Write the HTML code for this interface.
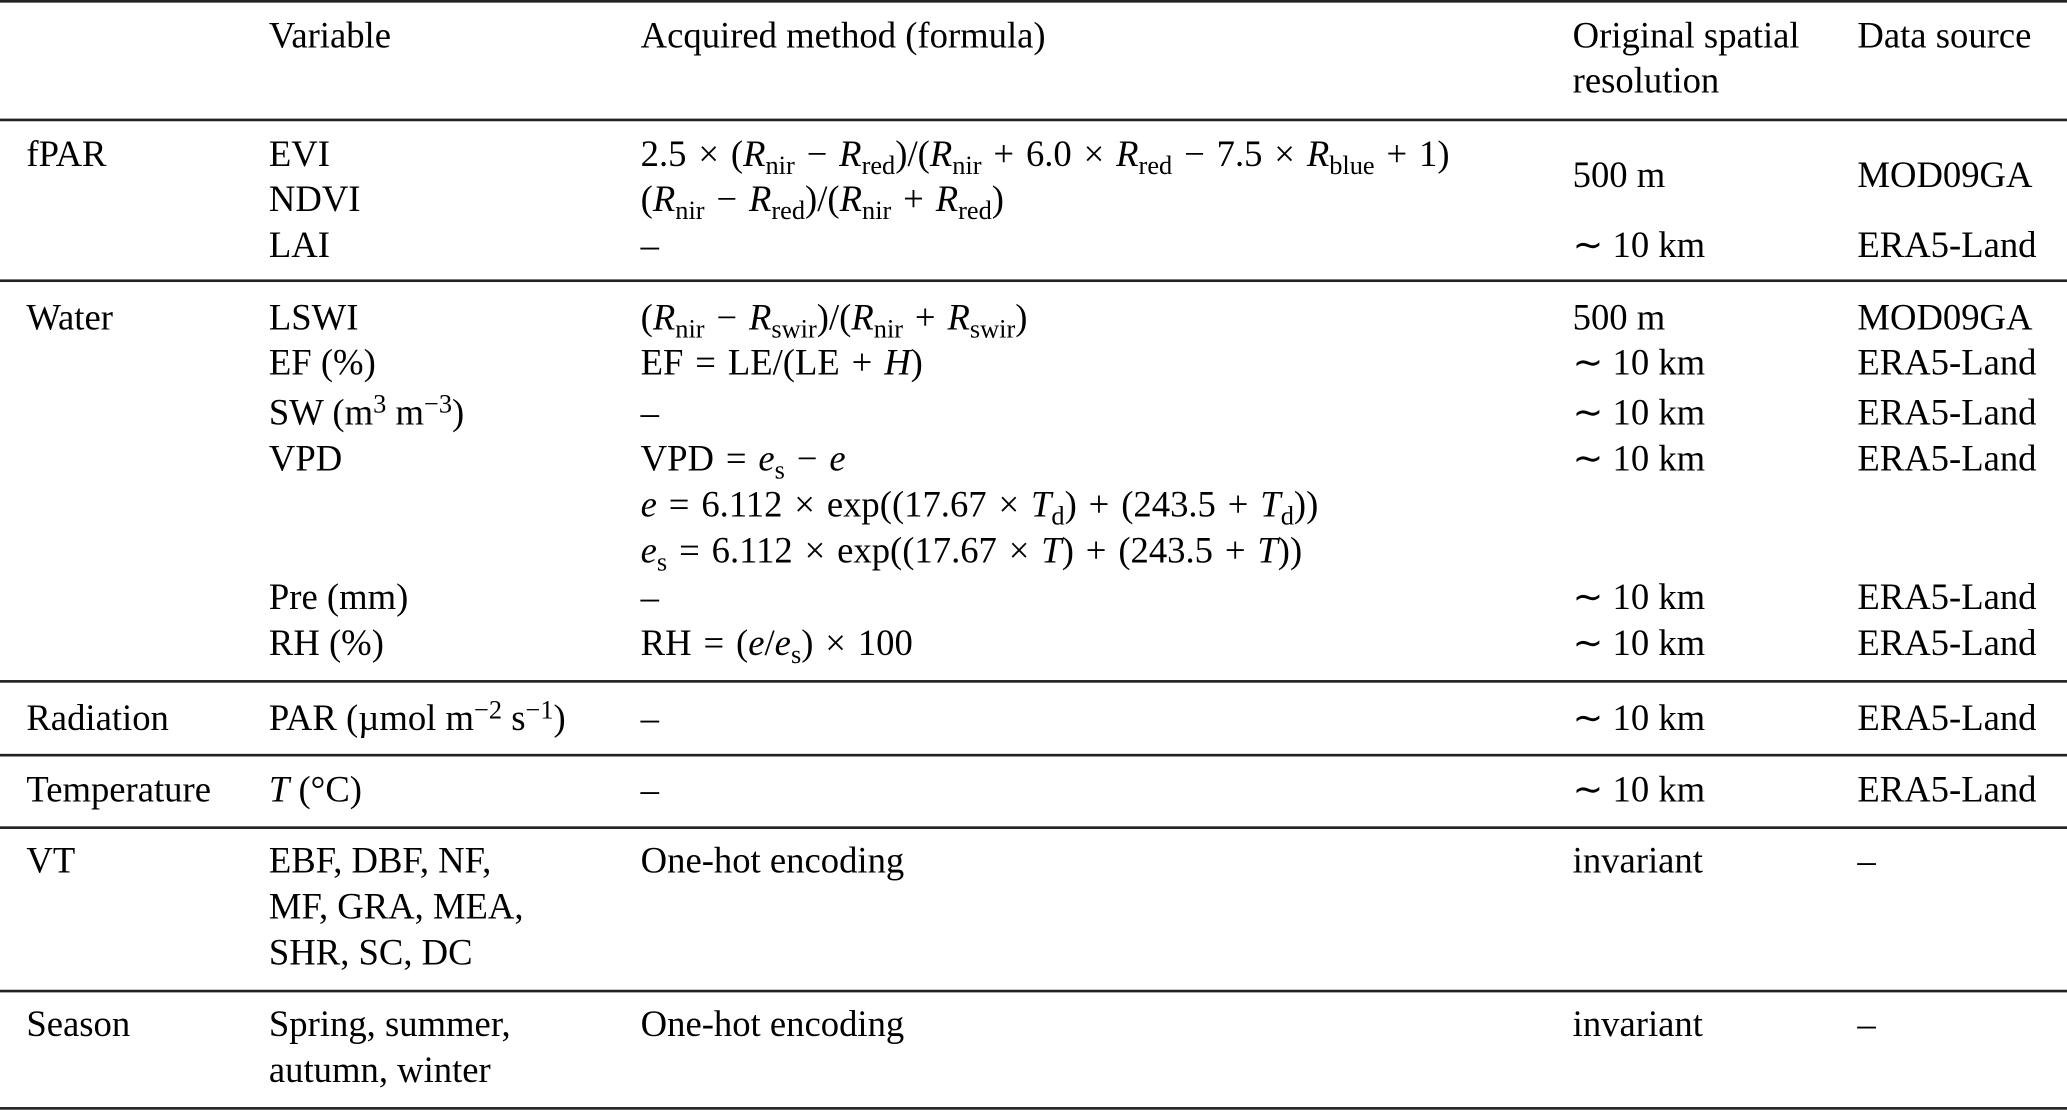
<!DOCTYPE html>
<html><head><meta charset="utf-8"><style>
html,body{margin:0;padding:0;background:#fff;}
body{width:2067px;height:1111px;overflow:hidden;position:relative;}
#c{position:absolute;left:0;top:0;width:1568px;height:843px;transform:scale(1.31824,1.31791);transform-origin:0 0;font-family:"Liberation Serif",serif;font-size:27.8px;color:#000;}
.t{position:absolute;white-space:nowrap;line-height:34px;height:34px;margin-top:1px;}
.l{position:absolute;left:0;width:1568px;background:#222;}
sub{font-size:0.72em;vertical-align:-0.3em;line-height:0;}
sup{font-size:0.72em;vertical-align:0.45em;line-height:0;}
i{font-style:italic;}
b{font-weight:normal;padding:0 9px;}
</style></head><body><div id="c">
<div class="l" style="top:0;height:2px"></div>
<div class="l" style="top:90px;height:1.5px"></div>
<div class="l" style="top:212px;height:1.5px"></div>
<div class="l" style="top:516px;height:1.5px"></div>
<div class="l" style="top:572px;height:1.5px"></div>
<div class="l" style="top:627px;height:1.5px"></div>
<div class="l" style="top:751px;height:1.5px"></div>
<div class="l" style="top:840px;height:2px"></div>

<div class="t" style="left:204px;top:10px">Variable</div>
<div class="t" style="left:486px;top:10px">Acquired method (formula)</div>
<div class="t" style="left:1193px;top:10px">Original spatial</div>
<div class="t" style="left:1193px;top:44px">resolution</div>
<div class="t" style="left:1409px;top:10px">Data source</div>

<div class="t" style="left:20px;top:100px">fPAR</div>
<div class="t" style="left:204px;top:100px">EVI</div>
<div class="t" style="left:204px;top:134px">NDVI</div>
<div class="t" style="left:204px;top:169px">LAI</div>
<div class="t" style="left:486px;top:100px">2.5<b>×</b>(<i>R</i><sub>nir</sub><b>−</b><i>R</i><sub>red</sub>)/(<i>R</i><sub>nir</sub><b>+</b>6.0<b>×</b><i>R</i><sub>red</sub><b>−</b>7.5<b>×</b><i>R</i><sub>blue</sub><b>+</b>1)</div>
<div class="t" style="left:486px;top:134px">(<i>R</i><sub>nir</sub><b>−</b><i>R</i><sub>red</sub>)/(<i>R</i><sub>nir</sub><b>+</b><i>R</i><sub>red</sub>)</div>
<div class="t" style="left:486px;top:169px">–</div>
<div class="t" style="left:1193px;top:116px">500 m</div>
<div class="t" style="left:1409px;top:116px">MOD09GA</div>
<div class="t" style="left:1193px;top:169px">∼ 10 km</div>
<div class="t" style="left:1409px;top:169px">ERA5-Land</div>

<div class="t" style="left:20px;top:224px">Water</div>
<div class="t" style="left:204px;top:224px">LSWI</div>
<div class="t" style="left:204px;top:258px">EF (%)</div>
<div class="t" style="left:204px;top:296px">SW (m<sup>3</sup> m<sup>−3</sup>)</div>
<div class="t" style="left:204px;top:331px">VPD</div>
<div class="t" style="left:204px;top:436px">Pre (mm)</div>
<div class="t" style="left:204px;top:471px">RH (%)</div>
<div class="t" style="left:486px;top:224px">(<i>R</i><sub>nir</sub><b>−</b><i>R</i><sub>swir</sub>)/(<i>R</i><sub>nir</sub><b>+</b><i>R</i><sub>swir</sub>)</div>
<div class="t" style="left:486px;top:258px">EF<b>=</b>LE/(LE<b>+</b><i>H</i>)</div>
<div class="t" style="left:486px;top:296px">–</div>
<div class="t" style="left:486px;top:331px">VPD<b>=</b><i>e</i><sub>s</sub><b>−</b><i>e</i></div>
<div class="t" style="left:486px;top:366px"><i>e</i><b>=</b>6.112<b>×</b>exp((17.67<b>×</b><i>T</i><sub>d</sub>)<b>+</b>(243.5<b>+</b><i>T</i><sub>d</sub>))</div>
<div class="t" style="left:486px;top:401px"><i>e</i><sub>s</sub><b>=</b>6.112<b>×</b>exp((17.67<b>×</b><i>T</i>)<b>+</b>(243.5<b>+</b><i>T</i>))</div>
<div class="t" style="left:486px;top:436px">–</div>
<div class="t" style="left:486px;top:471px">RH<b>=</b>(<i>e</i>/<i>e</i><sub>s</sub>)<b>×</b>100</div>
<div class="t" style="left:1193px;top:224px">500 m</div>
<div class="t" style="left:1409px;top:224px">MOD09GA</div>
<div class="t" style="left:1193px;top:258px">∼ 10 km</div>
<div class="t" style="left:1409px;top:258px">ERA5-Land</div>
<div class="t" style="left:1193px;top:296px">∼ 10 km</div>
<div class="t" style="left:1409px;top:296px">ERA5-Land</div>
<div class="t" style="left:1193px;top:331px">∼ 10 km</div>
<div class="t" style="left:1409px;top:331px">ERA5-Land</div>
<div class="t" style="left:1193px;top:436px">∼ 10 km</div>
<div class="t" style="left:1409px;top:436px">ERA5-Land</div>
<div class="t" style="left:1193px;top:471px">∼ 10 km</div>
<div class="t" style="left:1409px;top:471px">ERA5-Land</div>

<div class="t" style="left:20px;top:528px">Radiation</div>
<div class="t" style="left:204px;top:528px">PAR (µmol m<sup>−2</sup> s<sup>−1</sup>)</div>
<div class="t" style="left:486px;top:528px">–</div>
<div class="t" style="left:1193px;top:528px">∼ 10 km</div>
<div class="t" style="left:1409px;top:528px">ERA5-Land</div>

<div class="t" style="left:20px;top:582px">Temperature</div>
<div class="t" style="left:204px;top:582px"><i>T</i> (°C)</div>
<div class="t" style="left:486px;top:582px">–</div>
<div class="t" style="left:1193px;top:582px">∼ 10 km</div>
<div class="t" style="left:1409px;top:582px">ERA5-Land</div>

<div class="t" style="left:20px;top:636px">VT</div>
<div class="t" style="left:204px;top:636px">EBF, DBF, NF,</div>
<div class="t" style="left:204px;top:671px">MF, GRA, MEA,</div>
<div class="t" style="left:204px;top:706px">SHR, SC, DC</div>
<div class="t" style="left:486px;top:636px">One-hot encoding</div>
<div class="t" style="left:1193px;top:636px">invariant</div>
<div class="t" style="left:1409px;top:636px">–</div>

<div class="t" style="left:20px;top:760px">Season</div>
<div class="t" style="left:204px;top:760px">Spring, summer,</div>
<div class="t" style="left:204px;top:795px">autumn, winter</div>
<div class="t" style="left:486px;top:760px">One-hot encoding</div>
<div class="t" style="left:1193px;top:760px">invariant</div>
<div class="t" style="left:1409px;top:760px">–</div>
</div></body></html>
